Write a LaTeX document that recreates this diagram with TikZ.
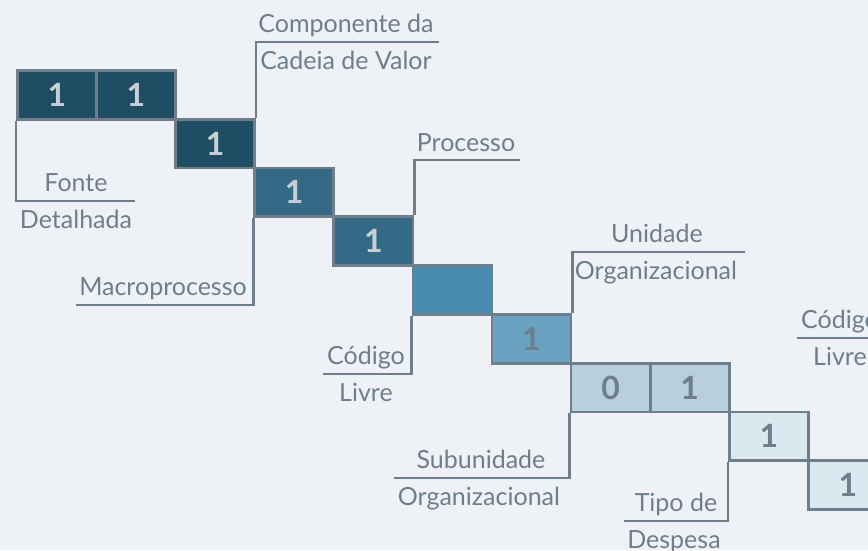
\documentclass[tikz,border=0pt]{standalone}
\usepackage{fontspec}
\setmainfont{Lato}
\definecolor{bg}{HTML}{EEF2F6}
\definecolor{ln}{HTML}{6E7E8B}
\definecolor{fa}{HTML}{1F4D64}
\definecolor{fb}{HTML}{356A86}
\definecolor{fc}{HTML}{4A8CB1}
\definecolor{fd}{HTML}{6AA3C2}
\definecolor{fe}{HTML}{B8D0DE}
\definecolor{ff}{HTML}{DBE8F0}
\definecolor{nl}{HTML}{C6CED6}
\definecolor{nd}{HTML}{6E7E8B}
\tikzset{
  cell/.style={draw=ln, line width=2.7pt, minimum width=79.1pt, minimum height=48.8pt,
    inner sep=0pt, anchor=north west, font=\fontsize{32}{35}\selectfont\bfseries},
  lightnum/.style={text=nl},
  darknum/.style={text=nd},
  lead/.style={draw=ln, line width=2.7pt},
  lab/.style={text=ln, inner sep=0pt, anchor=base, font=\fontsize{25}{29}\selectfont}
}
\begin{document}
\begin{tikzpicture}[x=1pt,y=-1pt]
\useasboundingbox (0,0) rectangle (868,550);
\clip (0,0) rectangle (868,550);
\fill[bg] (0,0) rectangle (868,550);
% cells
\node[cell, fill=fa, lightnum] (b1) at (16,69) {1};
\node[cell, fill=fa, lightnum] (b2) at (95.1,69) {1};
\node[cell, fill=fa, lightnum] (b3) at (174.2,117.8) {1};
\node[cell, fill=fb, lightnum] (b4) at (253.3,166.6) {1};
\node[cell, fill=fb, lightnum] (b5) at (332.4,215.4) {1};
\node[cell, fill=fc, lightnum] (b6) at (411.5,264.2) {};
\node[cell, fill=fd, darknum] (b7) at (490.6,313) {1};
\node[cell, fill=fe, darknum] (b8) at (569.7,361.8) {0};
\node[cell, fill=fe, darknum] (b9) at (648.8,361.8) {1};
\node[cell, fill=ff, darknum] (b10) at (727.9,410.6) {1};
\node[cell, fill=ff, darknum] (b11) at (807,459.4) {1};
% leader end points
\coordinate (e1) at (439,42);
\coordinate (e2) at (135,201);
\coordinate (e3) at (76,305);
\coordinate (e4) at (520,160);
\coordinate (e5) at (323,374);
\coordinate (e6) at (745,252);
\coordinate (e7) at (394,478);
\coordinate (e8) at (624,521);
\coordinate (e9) at (797,338);
% leaders
\draw[lead] (b3.north east) |- (e1);
\draw[lead] (b1.south west) |- (e2);
\draw[lead] (b4.south west) |- (e3);
\draw[lead] (b5.north east) |- (e4);
\draw[lead] (b6.south west) |- (e5);
\draw[lead] (b7.north east) |- (e6);
\draw[lead] (b8.south west) |- (e7);
\draw[lead] (b10.south west) |- (e8);
\draw[lead] (b11.north east) |- (e9);
% labels
\node[lab] (t1a) at (346,32) {Componente da};
\node[lab] (t1b) at (346,69) {Cadeia de Valor};
\node[lab] (t2a) at (76,191) {Fonte};
\node[lab] (t2b) at (76,228) {Detalhada};
\node[lab] (t3a) at (163,295) {Macroprocesso};
\node[lab] (t4a) at (466,151) {Processo};
\node[lab] (t5a) at (366,364) {Código};
\node[lab] (t5b) at (366,401) {Livre};
\node[lab] (t6a) at (657,242) {Unidade};
\node[lab] (t6b) at (656,279) {Organizacional};
\node[lab] (t7a) at (481,468) {Subunidade};
\node[lab] (t7b) at (479,505) {Organizacional};
\node[lab] (t8a) at (676,511) {Tipo de};
\node[lab] (t8b) at (674,548) {Despesa};
\node[lab] (t9a) at (840,328) {Código};
\node[lab] (t9b) at (840,365) {Livre};
\end{tikzpicture}
\end{document}
